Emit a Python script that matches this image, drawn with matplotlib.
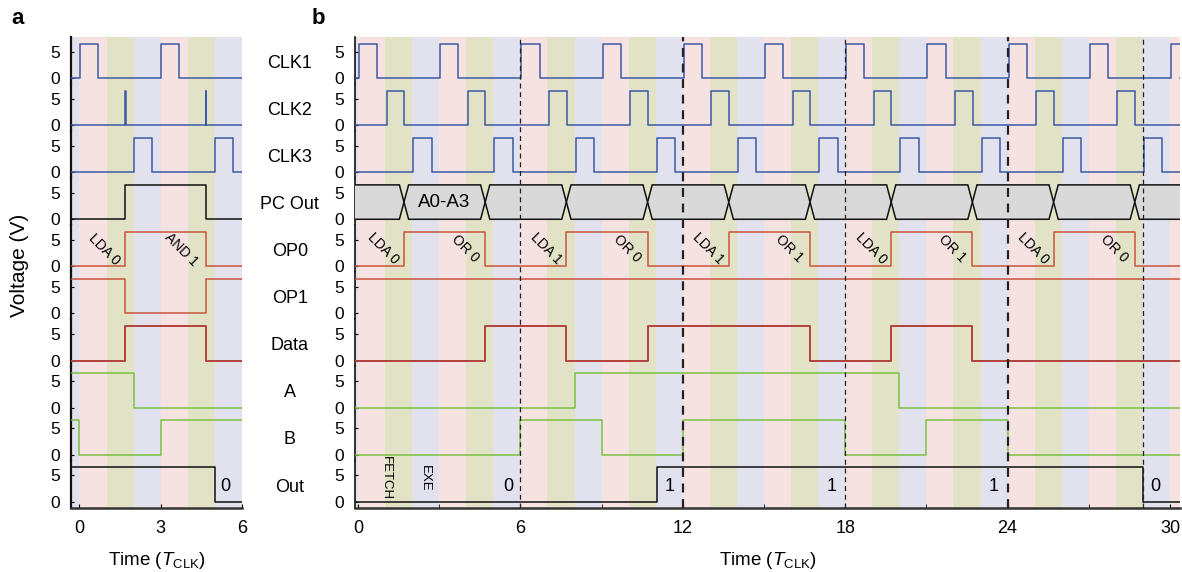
import numpy as np
import matplotlib
matplotlib.use('Agg')
import matplotlib.pyplot as plt
from matplotlib.patches import Polygon

plt.rcParams['font.family'] = ['Liberation Sans', 'DejaVu Sans']
plt.rcParams['mathtext.fontset'] = 'custom'
plt.rcParams['mathtext.rm'] = 'Liberation Sans'
plt.rcParams['mathtext.it'] = 'Liberation Sans:italic'

# ---------------- data ----------------
HI = 6.5
row_labels = ['CLK1', 'CLK2', 'CLK3', 'PC Out', 'OP0', 'OP1', 'Data', 'A', 'B', 'Out']

# panel a : initial level and toggle times
a_init = [0, 0, 0, 0, 0, 1, 0, 1, 1, 1]
a_clk1 = [0.02, 0.68, 3.02, 3.68]
a_clk2 = [1.68, 1.71, 4.66, 4.69]
a_clk3 = [2.0, 2.68, 5.0, 5.67]
a_pc = [1.68, 4.68]
a_op0 = [1.68, 4.68]
a_op1 = [1.68, 4.68]
a_data = [1.68, 4.68]
a_A = [2.0]
a_B = [0.0, 3.0]
a_out = [5.0]
a_op0_labels = ['LDA 0', 'AND 1']
a_op0_label_x = [0.92, 3.74]
a_out_labels = ['0']
a_out_label_x = [5.4]

# panel b
b_init = [0, 0, 0, 0, 0, 1, 0, 0, 0, 0]
b_clk1 = [0.04, 0.71, 3.04, 3.71, 6.04, 6.71, 9.04, 9.71, 12.04, 12.71, 15.04, 15.71,
          18.04, 18.71, 21.04, 21.71, 24.04, 24.71, 27.04, 27.71, 30.04, 30.71]
b_clk2 = [1.06, 1.71, 4.06, 4.71, 7.06, 7.71, 10.06, 10.71, 13.06, 13.71, 16.06, 16.71,
          19.06, 19.71, 22.06, 22.71, 25.06, 25.71, 28.06, 28.71]
b_clk3 = [2.04, 2.72, 5.04, 5.72, 8.04, 8.72, 11.04, 11.72, 14.04, 14.72, 17.04, 17.72,
          20.04, 20.72, 23.04, 23.72, 26.04, 26.72, 29.04, 29.72]
b_pc_cross = [1.7, 4.7, 7.7, 10.7, 13.7, 16.7, 19.7, 22.7, 25.7, 28.7]
b_op0 = [1.7, 4.7, 7.7, 10.7, 13.7, 16.7, 19.7, 22.7, 25.7, 28.7]
b_op1 = []
b_data = [4.7, 7.7, 10.7, 16.7, 19.7, 22.7]
b_A = [8.03, 20.0]
b_B = [6.0, 9.0, 12.0, 18.0, 21.0, 24.0]
b_out = [11.05, 29.0]
b_op0_labels = ['LDA 0', 'OR 0', 'LDA 1', 'OR 0', 'LDA 1', 'OR 1', 'LDA 0', 'OR 1', 'LDA 0', 'OR 0']
b_op0_label_x = [0.95, 3.95, 6.95, 9.95, 12.95, 15.95, 18.95, 21.95, 24.95, 27.95]
b_out_labels = ['0', '1', '1', '1', '0']
b_out_label_x = [5.55, 11.5, 17.5, 23.5, 29.45]
b_bus_label = 'A0-A3'
b_bus_label_x = 3.2
b_dashed = [6, 12, 18, 24, 29]
b_dashed_bold = [False, True, False, True, False]
phase_labels = ['FETCH', 'EXE']
phase_label_x = [1.03, 2.47]

# ---------------- style ----------------
BLUE = '#3d58a6'
RED = '#c9553c'
DRED = '#b3403c'
GREEN = '#7cc143'
BLACK = '#111111'
BAND = ['#f6e2e1', '#e1e2c6', '#e2e1ee']

a_signals = [a_clk1, a_clk2, a_clk3, a_pc, a_op0, a_op1, a_data, a_A, a_B, a_out]
b_signals = [b_clk1, b_clk2, b_clk3, None, b_op0, b_op1, b_data, b_A, b_B, b_out]
colors = [BLUE, BLUE, BLUE, BLACK, RED, RED, DRED, GREEN, GREEN, BLACK]

W, H = 1182, 572
fig = plt.figure(figsize=(W / 100, H / 100), dpi=100)

TOP, BOT = 36.7, 507.7
YL = (-1.1, 7.8)


def steps(init, toggles, x0, x1):
    xs, ys = [x0], [init * HI]
    lvl = init
    for t in toggles:
        xs += [t, t]
        ys += [lvl * HI, (1 - lvl) * HI]
        lvl = 1 - lvl
    xs.append(x1)
    ys.append(lvl * HI)
    return xs, ys


def make_panel(left_px, right_px, xlim):
    gs = fig.add_gridspec(10, 1, left=left_px / W, right=right_px / W,
                          top=1 - TOP / H, bottom=1 - BOT / H, hspace=0)
    axes = []
    for i in range(10):
        ax = fig.add_subplot(gs[i, 0])
        ax.set_xlim(*xlim)
        ax.set_ylim(*YL)
        k0 = int(np.floor(xlim[0])) - 1
        for k in range(k0, int(np.ceil(xlim[1])) + 1):
            ax.axvspan(k, k + 1, color=BAND[k % 3], lw=0, zorder=0)
        for s in ['top', 'right', 'bottom']:
            ax.spines[s].set_visible(False)
        ax.spines['left'].set_color('#111111')
        ax.spines['left'].set_linewidth(1.2)
        ax.set_yticks([0, 5])
        ax.tick_params(axis='y', direction='in', length=2, pad=8, labelsize=12.5)
        ax.tick_params(axis='x', bottom=False, labelbottom=False)
        axes.append(ax)
    last = axes[-1]
    last.spines['bottom'].set_visible(True)
    last.spines['bottom'].set_linewidth(1.8)
    last.spines['bottom'].set_color('#333333')
    last.tick_params(axis='x', bottom=True, labelbottom=True, direction='in',
                     length=3, pad=9, labelsize=13)
    last.set_xlabel('Time ($T_{\\mathrm{CLK}}$)', fontsize=13.5, labelpad=9)
    return axes


# ---------------- panel a ----------------
xa = (-0.31, 6.0)
axa = make_panel(71, 242, xa)
for i, ax in enumerate(axa):
    xs, ys = steps(a_init[i], a_signals[i], xa[0], xa[1])
    ax.plot(xs, ys, color=colors[i], lw=1.1 if i != 6 else 1.4, zorder=3)
    ax.spines['left'].set_linewidth(1.6)
axa[-1].set_xticks([0, 3, 6])
for lab, x in zip(a_op0_labels, a_op0_label_x):
    axa[4].text(x, 3.2, lab, rotation=-45, ha='center', va='center', fontsize=10, zorder=4)
for lab, x in zip(a_out_labels, a_out_label_x):
    axa[9].text(x, 2.9, lab, ha='center', va='center', fontsize=13, zorder=4)

# ---------------- panel b ----------------
xb = (-0.11, 30.37)
axb = make_panel(355, 1180, xb)
for i, ax in enumerate(axb):
    if i == 3:
        h = 0.17
        pts = [xb[0] - 1] + b_pc_cross + [xb[1] + 1]
        mid = HI / 2
        for c0, c1 in zip(pts[:-1], pts[1:]):
            poly = [(c0, mid), (c0 + h, HI), (c1 - h, HI), (c1, mid), (c1 - h, 0), (c0 + h, 0)]
            ax.add_patch(Polygon(poly, closed=True, facecolor='#d9d9d9',
                                 edgecolor=BLACK, lw=1.1, zorder=3))
        ax.text(b_bus_label_x, mid, b_bus_label, ha='center', va='center',
                fontsize=13.5, zorder=4)
    else:
        xs, ys = steps(b_init[i], b_signals[i], xb[0], xb[1])
        ax.plot(xs, ys, color=colors[i], lw=1.1 if i != 6 else 1.4, zorder=3)
    ax.text(-0.079, 2.8, row_labels[i], transform=ax.get_yaxis_transform(),
            ha='center', va='center', fontsize=13)
axb[-1].set_xticks([0, 6, 12, 18, 24, 30])
axb[-1].set_xticks([3, 9, 15, 21, 27], minor=True)
axb[-1].tick_params(axis='x', which='minor', direction='in', length=3)
for lab, x in zip(b_op0_labels, b_op0_label_x):
    axb[4].text(x, 3.3, lab, rotation=-45, ha='center', va='center', fontsize=10, zorder=4)
for lab, x in zip(b_out_labels, b_out_label_x):
    axb[9].text(x, 2.9, lab, ha='center', va='center', fontsize=13, zorder=4)
for lab, x in zip(phase_labels, phase_label_x):
    axb[9].text(x, 4.5, lab, rotation=-90, ha='center', va='center', fontsize=9.5, zorder=4)

# dashed lines overlay
ov = fig.add_axes([355 / W, 1 - BOT / H, (1180 - 355) / W, (BOT - TOP) / H])
ov.set_xlim(*xb)
ov.set_ylim(0, 1)
ov.axis('off')
ov.patch.set_visible(False)
for x, bold in zip(b_dashed, b_dashed_bold):
    ov.axvline(x, color='#222222', lw=1.6 if bold else 0.9, ls=(0, (4, 3)), zorder=5)

# ---------------- labels ----------------
fig.text(20 / W, 1 - 265 / H, 'Voltage (V)', rotation=90, ha='center', va='center', fontsize=15)
fig.text(18 / W, 1 - 18 / H, 'a', fontsize=16, fontweight='bold', ha='center', va='center')
fig.text(318 / W, 1 - 18 / H, 'b', fontsize=16, fontweight='bold', ha='center', va='center')

fig.savefig('out.png', dpi=100)
